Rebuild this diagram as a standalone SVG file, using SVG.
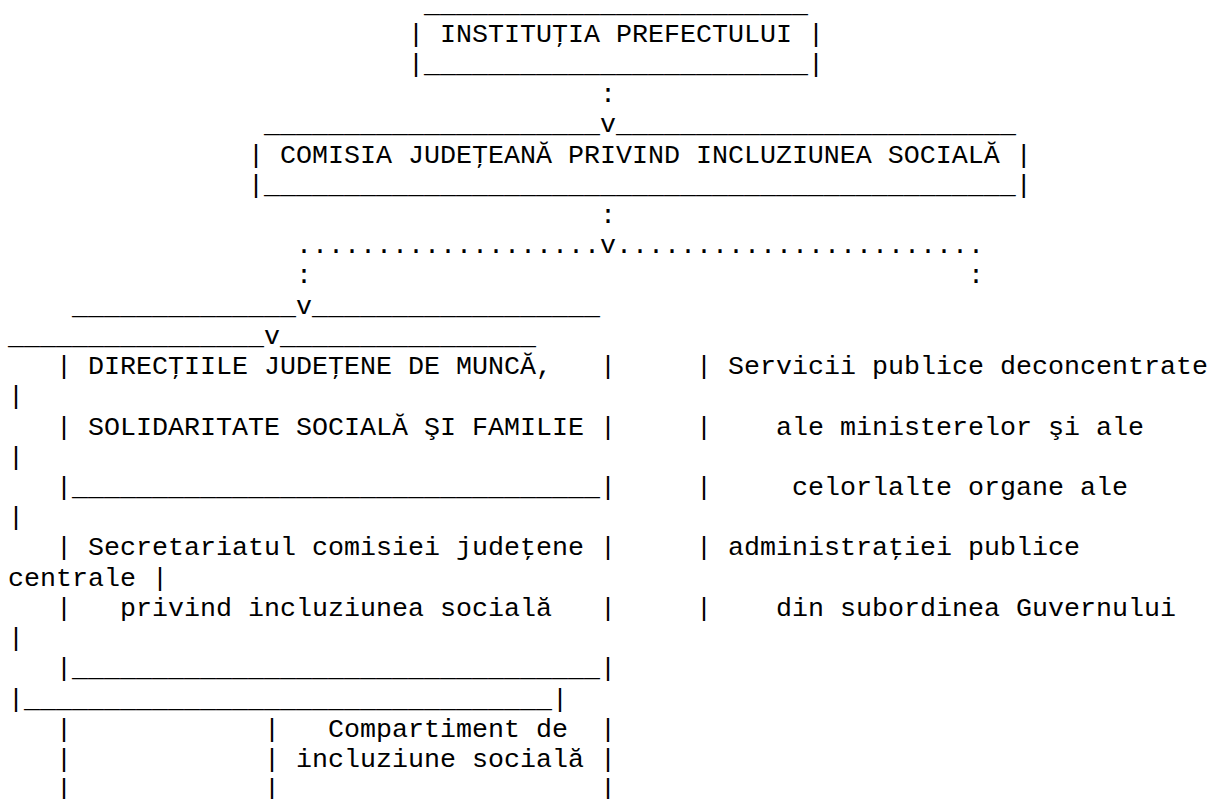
<svg xmlns="http://www.w3.org/2000/svg" width="1209" height="799" viewBox="0 0 1209 799" xml:space="preserve">
<style>
text{font-family:"Liberation Mono","Courier New",monospace;font-size:26.667px;fill:#000;white-space:pre}
</style>
<rect width="1209" height="799" fill="#fff"/>
<g id="n-institutia">
<text x="424" y="11.5">________________________</text>
<text x="408" y="41.72">| INSTITUŢIA PREFECTULUI |</text>
<text x="408" y="71.94">|________________________|</text>
</g>
<g id="n-comisia">
<text x="264" y="132.38">_____________________</text>
<text x="616" y="132.38">_________________________</text>
<text x="248" y="162.6">| COMISIA JUDEŢEANĂ PRIVIND INCLUZIUNEA SOCIALĂ |</text>
<text x="248" y="192.82">|_______________________________________________|</text>
</g>
<g id="connectors">
<text x="600" y="102.16">:</text>
<text x="600" y="132.38">v</text>
<text x="600" y="223.04">:</text>
<text x="296" y="253.26">...................</text>
<text x="600" y="253.26">v</text>
<text x="616" y="253.26">.......................</text>
<text x="296" y="283.48">:</text>
<text x="968" y="283.48">:</text>
<text x="296" y="313.7">v</text>
<text x="264" y="343.92">v</text>
</g>
<g id="n-directiile">
<text x="72" y="313.7">______________</text>
<text x="312" y="313.7">__________________</text>
<text x="56" y="374.14">|</text>
<text x="88" y="374.14">DIRECŢIILE JUDEŢENE DE MUNCĂ,</text>
<text x="600" y="374.14">|</text>
<text x="56" y="434.58">|</text>
<text x="88" y="434.58">SOLIDARITATE SOCIALĂ ŞI FAMILIE</text>
<text x="600" y="434.58">|</text>
<text x="56" y="495.02">|_________________________________|</text>
</g>
<g id="n-secretariat">
<text x="8" y="343.92">________________</text>
<text x="280" y="343.92">________________</text>
<text x="56" y="555.46">|</text>
<text x="88" y="555.46">Secretariatul comisiei judeţene</text>
<text x="600" y="555.46">|</text>
<text x="56" y="615.9">|</text>
<text x="120" y="615.9">privind incluziunea socială</text>
<text x="600" y="615.9">|</text>
<text x="56" y="676.34">|_________________________________|</text>
</g>
<g id="n-servicii">
<text x="696" y="374.14">|</text>
<text x="728" y="374.14">Servicii publice deconcentrate</text>
<text x="8" y="404.36">|</text>
<text x="696" y="434.58">|</text>
<text x="776" y="434.58">ale ministerelor şi ale</text>
<text x="8" y="464.8">|</text>
<text x="696" y="495.02">|</text>
<text x="792" y="495.02">celorlalte organe ale</text>
<text x="8" y="525.24">|</text>
<text x="696" y="555.46">|</text>
<text x="728" y="555.46">administraţiei publice</text>
<text x="8" y="585.68">centrale |</text>
<text x="696" y="615.9">|</text>
<text x="776" y="615.9">din subordinea Guvernului</text>
<text x="8" y="646.12">|</text>
</g>
<g id="n-compartiment">
<text x="8" y="706.56">|_________________________________|</text>
<text x="56" y="736.78">|</text>
<text x="264" y="736.78">|</text>
<text x="328" y="736.78">Compartiment de</text>
<text x="600" y="736.78">|</text>
<text x="56" y="767">|</text>
<text x="264" y="767">|</text>
<text x="296" y="767">incluziune socială</text>
<text x="600" y="767">|</text>
<text x="56" y="797.22">|</text>
<text x="264" y="797.22">|</text>
<text x="600" y="797.22">|</text>
</g>
</svg>
